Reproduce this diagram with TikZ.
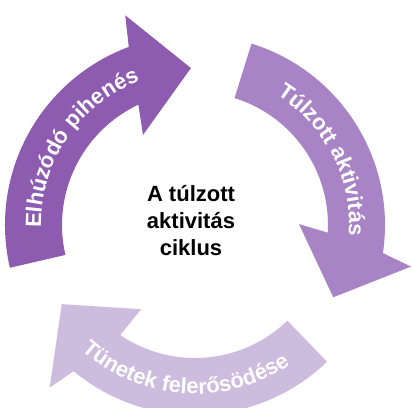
\documentclass[tikz,border=0pt]{standalone}
\usepackage{fontspec}
\usetikzlibrary{decorations.text}
\newfontfamily\labfamily{Liberation Sans}
\newcommand{\arrowfont}{\labfamily\bfseries\fontsize{22pt}{26pt}\selectfont}
\newcommand{\centerfont}{\labfamily\bfseries\fontsize{22pt}{27pt}\selectfont}
\definecolor{pA}{RGB}{141,91,176}
\definecolor{pB}{RGB}{168,131,198}
\definecolor{pC}{RGB}{205,188,222}
\tikzset{
  arrowshape/.style={fill=#1, draw=none},
  arclabel/.style={decorate, decoration={text along path, text={|\arrowfont|#1}, text align=center, text color=white}}
}
\begin{document}
\begin{tikzpicture}[x=1pt,y=1pt]
\useasboundingbox (0,0) rectangle (412,-407);
\fill[white] (0,0) rectangle (412,-407);
\begin{scope}[shift={(195,-225)}]
  % arrow 1
  \path[arrowshape=pA] (193:190) arc[start angle=193, end angle=110.4, radius=190pt]
    -- (108.4:221) -- (91.5:157) -- (120:104) -- (115.2:133)
    arc[start angle=115.2, end angle=193, radius=133pt] -- cycle;
  % arrow 2
  \path[arrowshape=pB] (72.7:190) arc[start angle=72.7, end angle=-8.5, radius=190pt]
    -- (-10.9:220) -- (-27.6:156) -- (0.5:104) -- (-3.3:133)
    arc[start angle=-3.3, end angle=72.7, radius=133pt] -- cycle;
  % arrow 3
  \path[arrowshape=pC] (-46:190) arc[start angle=-46, end angle=-129.7, radius=190pt]
    -- (-131.8:218) -- (-149.3:155) -- (-122.6:100) -- (-124.2:133)
    arc[start angle=-124.2, end angle=-46, radius=133pt] -- cycle;
  % labels
  \path[arclabel={Elhúzódó pihenés}] (206:154) arc[start angle=206, end angle=86, radius=154pt];
  \path[arclabel={Túlzott aktivitás}] (87:154) arc[start angle=87, end angle=-33, radius=154pt];
  \path[arclabel={Tünetek felerősödése}] (206:169) arc[start angle=206, end angle=326, radius=169pt];
\end{scope}
\node[font=\centerfont, align=center, text=black] (title) at (191,-221) {A túlzott\\aktivitás\\ciklus};
\end{tikzpicture}
\end{document}
